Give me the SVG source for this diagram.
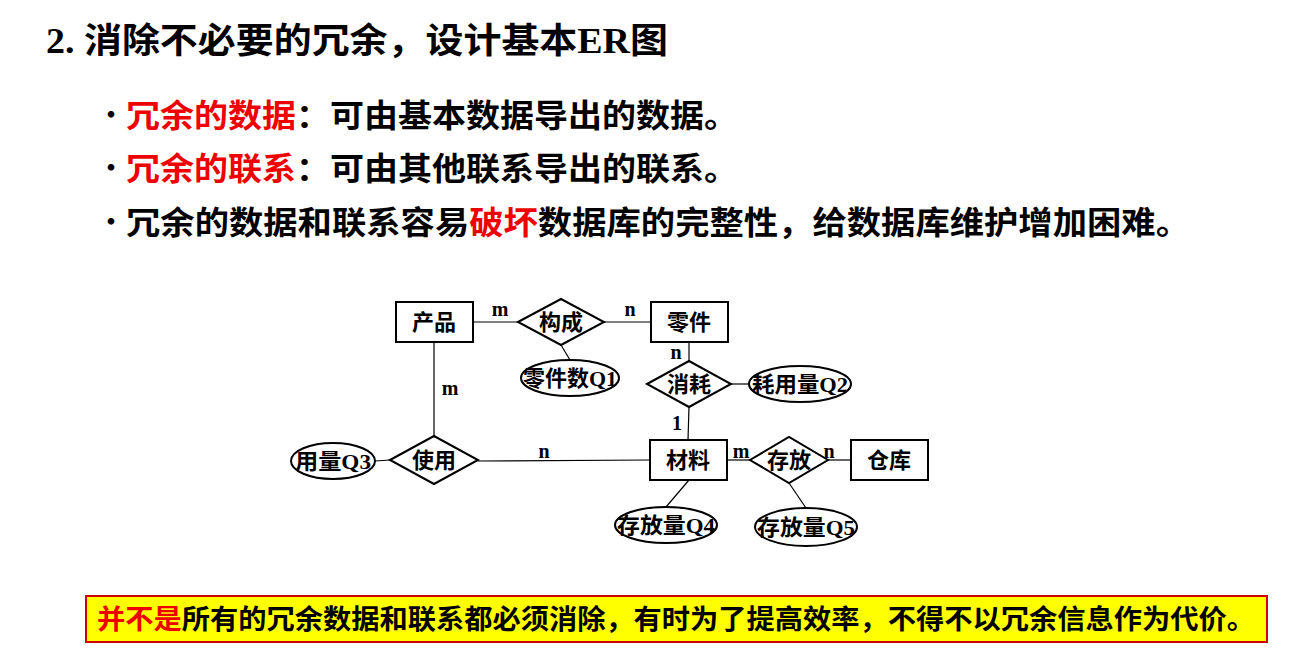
<svg xmlns="http://www.w3.org/2000/svg" width="1314" height="660" viewBox="0 0 1314 660">
<style>
.t{font-family:"Noto Sans CJK SC",sans-serif;font-weight:bold;fill:#000}
.b{font-size:32px}
.r{fill:#e00}
.n{font-family:"Liberation Serif","Noto Sans CJK SC",serif;font-weight:bold;font-size:20px;text-anchor:middle;dominant-baseline:central}
.e rect,.e polygon,.e ellipse{fill:#fff;stroke:#000;stroke-width:2}
.e text{font-family:"Liberation Serif","Noto Sans CJK SC",serif;font-weight:bold;font-size:22px;text-anchor:middle;dominant-baseline:central}
.c line{stroke:#000;stroke-width:1.2}
</style>
<rect width="1314" height="660" fill="#fff"/>
<text x="46" y="53" class="t" style="font-size:35px" textLength="622" lengthAdjust="spacingAndGlyphs"><tspan style="font-family:'Liberation Serif',serif">2. </tspan>消除不必要的冗余，设计基本<tspan style="font-family:'Liberation Serif',serif">ER</tspan>图</text>
<text x="98" y="124" class="t" font-size="26">•</text>
<text x="98" y="177" class="t" font-size="26">•</text>
<text x="98" y="231" class="t" font-size="26">•</text>
<text x="126" y="127" class="t b" textLength="612" lengthAdjust="spacingAndGlyphs"><tspan class="r">冗余的数据</tspan>：可由基本数据导出的数据。</text>
<text x="126" y="180" class="t b" textLength="612" lengthAdjust="spacingAndGlyphs"><tspan class="r">冗余的联系</tspan>：可由其他联系导出的联系。</text>
<text x="126" y="234" class="t b" textLength="1064" lengthAdjust="spacingAndGlyphs">冗余的数据和联系容易<tspan class="r">破坏</tspan>数据库的完整性，给数据库维护增加困难。</text>
<g class="c">
<line x1="473" y1="322" x2="518" y2="322"/><line x1="604" y1="322" x2="651" y2="322"/>
<line x1="561" y1="345" x2="570" y2="360"/>
<line x1="689" y1="342" x2="689" y2="361"/><line x1="689" y1="407" x2="688" y2="440"/>
<line x1="731" y1="384" x2="749" y2="384"/>
<line x1="434" y1="342" x2="434" y2="436"/><line x1="375" y1="461" x2="390" y2="460"/>
<line x1="478" y1="461" x2="650" y2="460"/>
<line x1="727" y1="460" x2="750" y2="460"/><line x1="828" y1="460" x2="851" y2="460"/>
<line x1="689" y1="480" x2="666" y2="507"/><line x1="789" y1="483" x2="806" y2="508"/>
</g>
<g class="n"><text x="500" y="309" class="n">m</text><text x="630" y="309" class="n">n</text><text x="676" y="352" class="n">n</text><text x="677" y="423" class="n">1</text><text x="450" y="388" class="n">m</text><text x="544" y="451" class="n">n</text><text x="741" y="451" class="n">m</text><text x="829" y="451" class="n">n</text></g>
<g class="e">
<g id="chanpin"><rect x="396" y="302" width="77" height="40"/><text x="434" y="322">产品</text></g>
<g id="lingjian"><rect x="651" y="302" width="77" height="40"/><text x="689" y="322">零件</text></g>
<g id="cailiao"><rect x="650" y="440" width="77" height="40"/><text x="688" y="460">材料</text></g>
<g id="cangku"><rect x="851" y="440" width="77" height="40"/><text x="889" y="460">仓库</text></g>
<g id="goucheng"><polygon points="518,322 561,299 604,322 561,345"/><text x="561" y="322">构成</text></g>
<g id="xiaohao"><polygon points="647,384 689,361 731,384 689,407"/><text x="689" y="384">消耗</text></g>
<g id="shiyong"><polygon points="390,460 434,436 478,460 434,484"/><text x="434" y="460">使用</text></g>
<g id="cunfang"><polygon points="750,460 789,437 828,460 789,483"/><text x="789" y="460">存放</text></g>
<g id="q1"><ellipse cx="570" cy="378" rx="49" ry="18"/><text x="570" y="378" textLength="94" lengthAdjust="spacingAndGlyphs">零件数Q1</text></g>
<g id="q2"><ellipse cx="800" cy="384" rx="51" ry="18"/><text x="800" y="384" textLength="96" lengthAdjust="spacingAndGlyphs">耗用量Q2</text></g>
<g id="q3"><ellipse cx="333" cy="461" rx="42" ry="18"/><text x="333" y="461" textLength="76" lengthAdjust="spacingAndGlyphs">用量Q3</text></g>
<g id="q4"><ellipse cx="666" cy="525" rx="51" ry="18"/><text x="666" y="525" textLength="98" lengthAdjust="spacingAndGlyphs">存放量Q4</text></g>
<g id="q5"><ellipse cx="806" cy="527" rx="51" ry="19"/><text x="806" y="527" textLength="98" lengthAdjust="spacingAndGlyphs">存放量Q5</text></g>
</g>
<rect x="86" y="596" width="1181" height="46" fill="#ff0" stroke="#c00" stroke-width="2"/>
<text x="97" y="629" class="t" style="font-size:27px" textLength="1158" lengthAdjust="spacingAndGlyphs"><tspan class="r">并不是</tspan>所有的冗余数据和联系都必须消除，有时为了提高效率，不得不以冗余信息作为代价。</text>
</svg>
